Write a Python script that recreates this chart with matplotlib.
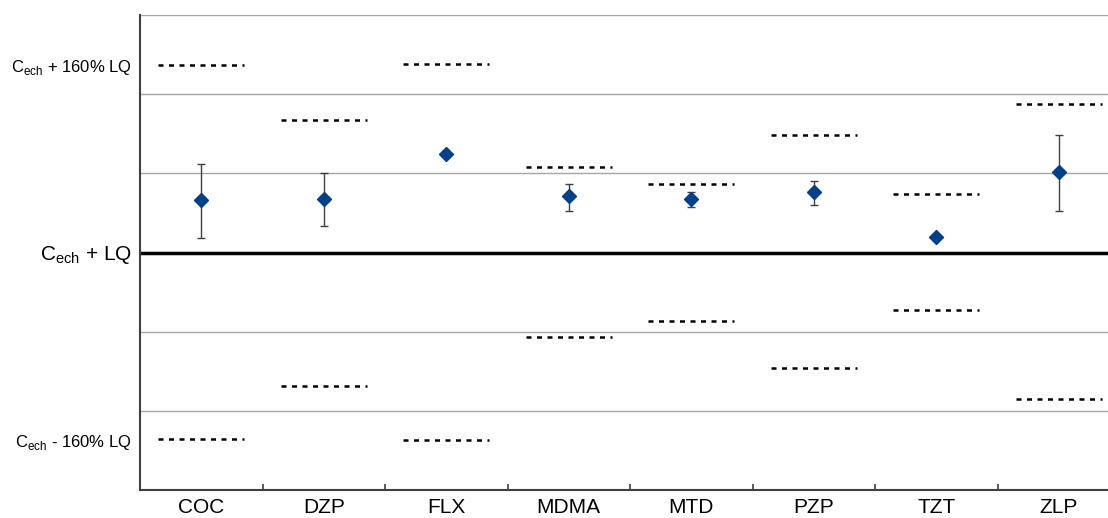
import matplotlib
matplotlib.use("Agg")
import matplotlib.pyplot as plt
import numpy as np

plt.rcParams['font.family'] = ['Liberation Sans', 'DejaVu Sans']

categories = ["COC", "DZP", "FLX", "MDMA", "MTD", "PZP", "TZT", "ZLP"]
values = [0.66, 0.68, 1.24, 0.71, 0.68, 0.76, 0.19, 1.02]
err_low = [0.48, 0.34, 0.0, 0.18, 0.10, 0.16, 0.0, 0.49]
err_high = [0.46, 0.32, 0.0, 0.16, 0.09, 0.14, 0.0, 0.47]
upper_limits = [2.37, 1.68, 2.38, 1.08, 0.87, 1.48, 0.74, 1.87]
lower_limits = [-2.36, -1.68, -2.37, -1.07, -0.87, -1.46, -0.73, -1.85]
ytick_pos = [2.37, 0.0, -2.37]
ytick_labels = [r"C$_{\mathregular{ech}}$ + 160% LQ", r"C$_{\mathregular{ech}}$ + LQ",
                r"C$_{\mathregular{ech}}$ - 160% LQ"]

fig = plt.figure(figsize=(11.08, 5.18), dpi=100)
ax = fig.add_axes([140/1108, 1-490/518, 1-140/1108, (490-15)/518])

x = np.arange(len(categories)) + 0.5
ax.set_xlim(0, (1108-140)/122.5)
ax.set_ylim(-3, 3)

for yv in [-2, -1, 1, 2, 3]:
    ax.axhline(yv, color="#a6a6a6", lw=1.0, zorder=1)
ax.axhline(0, color="black", lw=2.5, zorder=2)

hw = 0.35
for xi, up, lo in zip(x, upper_limits, lower_limits):
    ax.plot([xi-hw, xi+hw], [up, up], color="black", lw=1.8, ls=(0, (2, 2.2)), zorder=3)
    ax.plot([xi-hw, xi+hw], [lo, lo], color="black", lw=1.8, ls=(0, (2, 2.2)), zorder=3)

ax.errorbar(x, values, yerr=[err_low, err_high], fmt="none", ecolor="#404040",
            elinewidth=1.0, capsize=3, capthick=1.0, zorder=4)
ax.plot(x, values, ls="none", marker="D", color="#003f8a", markersize=7, zorder=5)

for s in ["top", "right"]:
    ax.spines[s].set_visible(False)
ax.spines["left"].set_color("#404040")
ax.spines["left"].set_linewidth(1.5)
ax.spines["bottom"].set_color("#404040")
ax.spines["bottom"].set_linewidth(1.5)

ax.set_yticks(ytick_pos)
ax.set_yticklabels(ytick_labels)
for lbl, fs in zip(ax.get_yticklabels(), [12, 15, 12]):
    lbl.set_fontsize(fs)
ax.tick_params(axis="y", length=0, pad=6)
ax.set_yticks([0], minor=True)
ax.tick_params(axis="y", which="minor", length=4, color="#404040", width=1.2)
ax.set_xticks(x)
ax.set_xticklabels(categories, fontsize=15)
ax.tick_params(axis="x", length=0, pad=6)
ax.set_xticks(np.arange(1, len(categories)), minor=True)
ax.tick_params(axis="x", which="minor", direction="in", length=4, color="#404040", width=1.2)

fig.savefig("out.png", dpi=100)
